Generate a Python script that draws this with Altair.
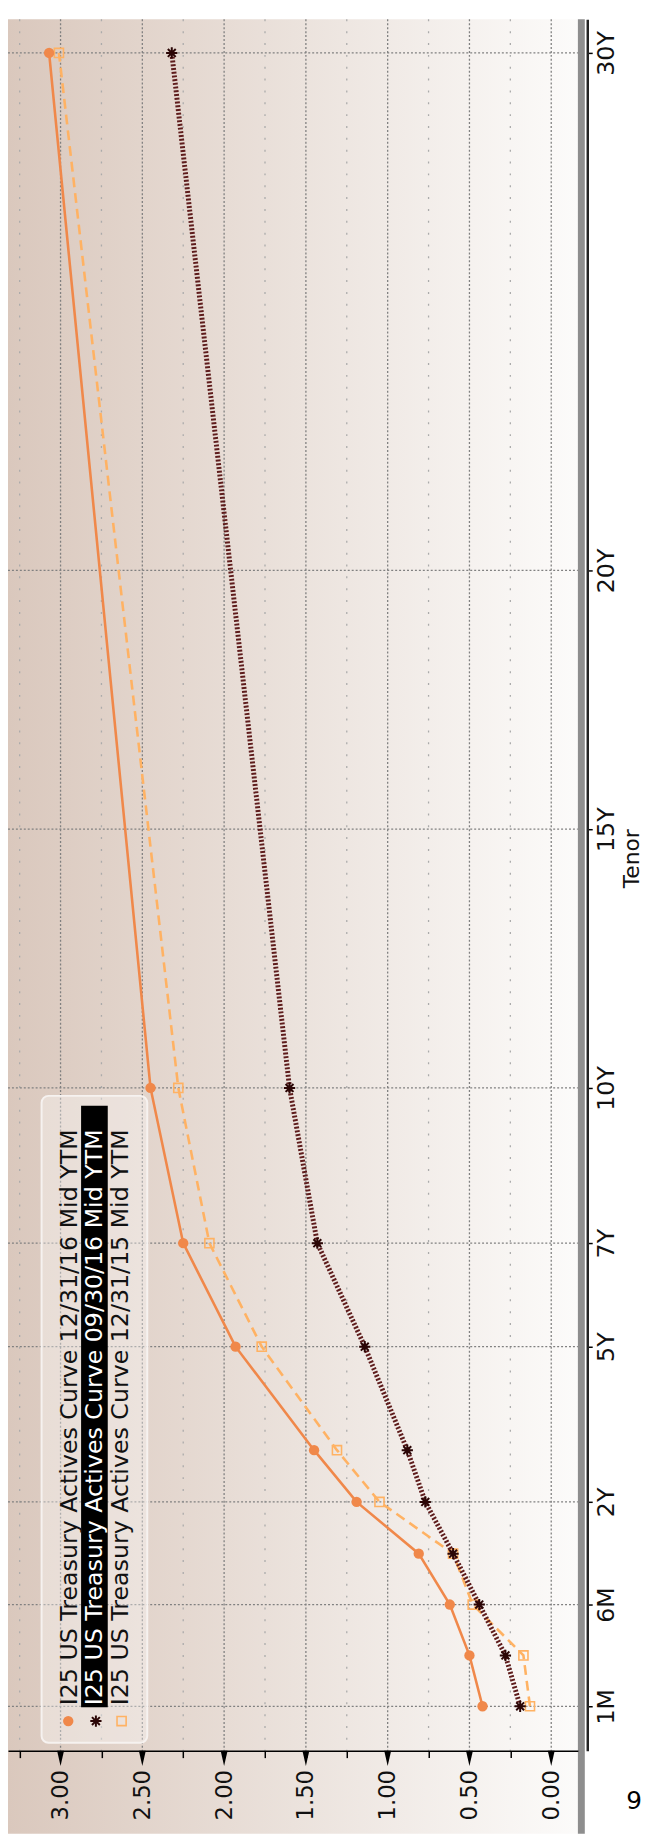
import altair as alt
import pandas as pd

# ---------------- data ----------------
tenor_labels = ["1M", "3M", "6M", "1Y", "2Y", "3Y", "5Y", "7Y", "10Y", "30Y"]
tenor_months = [1, 3, 6, 12, 24, 36, 60, 84, 120, 360]
yld_dec16 = [0.42, 0.50, 0.62, 0.81, 1.19, 1.45, 1.93, 2.25, 2.45, 3.07]
yld_sep16 = [0.19, 0.28, 0.44, 0.60, 0.77, 0.88, 1.14, 1.43, 1.60, 2.32]
yld_dec15 = [0.13, 0.17, 0.48, 0.60, 1.05, 1.31, 1.77, 2.09, 2.28, 3.01]
series_names = [
    "I25 US Treasury Actives Curve 12/31/16 Mid YTM",
    "I25 US Treasury Actives Curve 09/30/16 Mid YTM",
    "I25 US Treasury Actives Curve 12/31/15 Mid YTM",
]

axis_tenor_months = [1, 6, 24, 60, 84, 120, 180, 240, 360]
axis_tenor_labels = ["1M", "6M", "2Y", "5Y", "7Y", "10Y", "15Y", "20Y", "30Y"]
yield_ticks = [0.0, 0.25, 0.5, 0.75, 1.0, 1.25, 1.5, 1.75, 2.0, 2.25, 2.5, 2.75, 3.0, 3.25]
yield_tick_labels = ["0.00", "", "0.50", "", "1.00", "", "1.50", "", "2.00", "", "2.50", "", "3.00", ""]
yield_major = [0.0, 0.5, 1.0, 1.5, 2.0, 2.5, 3.0]
yield_minor = [0.25, 0.75, 1.25, 1.75, 2.25, 2.75, 3.25]
page_note = "9"
tenor_title = "Tenor"

# ---------------- layout / style ----------------
W, H = 577, 1753
PAD_R, PAD_B = 72, 84
FONT = "DejaVu Sans"
TXT = "#111111"

xs = alt.Scale(domain=[-0.163, 3.3213], reverse=True, nice=False, zero=False)
ys = alt.Scale(domain=[0, 1, 3, 6, 12, 360, 367.8],
               range=[H, H - 45, H - 96.5, H - 148, H - 199.5, 34, 0],
               nice=False, zero=False)


def js_list(v):
    return "[" + ",".join(repr(x) if not isinstance(x, str) else "'" + x + "'" for x in v) + "]"


x_axis = alt.Axis(
    values=yield_ticks,
    labelExpr=f"{js_list(yield_tick_labels)}[indexof({js_list(yield_ticks)}, datum.value)]",
    labelAngle=270, labelAlign="right", labelBaseline="middle",
    labelFont=FONT, labelFontSize=23, labelColor=TXT, labelPadding=12,
    labelOverlap=False, labelFlush=False,
    tickSize=7, tickColor="#000000", tickWidth=1.5,
    domainColor="#000000", domainWidth=1.5,
    grid=False, title=None, zindex=1,
)
y_axis = alt.Axis(
    orient="right", values=axis_tenor_months,
    labelExpr=f"{js_list(axis_tenor_labels)}[indexof({js_list(axis_tenor_months)}, datum.value)]",
    labelAngle=270, labelAlign="center", labelBaseline="top",
    labelFont=FONT, labelFontSize=24, labelColor=TXT, labelPadding=3,
    labelOverlap=False, labelFlush=False,
    tickSize=5, tickColor="#000000", tickWidth=1.5,
    domainColor="#222222", domainWidth=2.5, offset=9.5,
    grid=False, title=None, zindex=1,
)


def X(f="yield"):
    return alt.X(f"{f}:Q", scale=xs, axis=x_axis)


def Y(f="tenor"):
    return alt.Y(f"{f}:Q", scale=ys, axis=y_axis)


one = pd.DataFrame({"k": [0]})

# background gradient
bg = alt.Chart(one).mark_rect(
    fill=alt.LinearGradient(
        gradient="linear", x1=0, x2=1, y1=0, y2=0,
        stops=[alt.GradientStop(offset=0, color="#dac8bd"),
               alt.GradientStop(offset=0.5, color="#ebe2dc"),
               alt.GradientStop(offset=1, color="#fcfbfa")]),
    strokeWidth=0,
).encode(x=alt.value(0), x2=alt.value(W), y=alt.value(0), y2=alt.value(H + PAD_B))

# grid lines
grid_major = alt.Chart(pd.DataFrame({"yield": yield_major})).mark_rule(
    color="#808080", strokeDash=[2, 2], strokeWidth=1.3
).encode(x=X(), y=alt.value(0), y2=alt.value(H))
grid_minor = alt.Chart(pd.DataFrame({"yield": yield_minor})).mark_rule(
    color="#ababab", strokeDash=[2, 10], strokeWidth=1.3
).encode(x=X(), y=alt.value(0), y2=alt.value(H))
grid_tenor = alt.Chart(pd.DataFrame({"tenor": axis_tenor_months})).mark_rule(
    color="#808080", strokeDash=[2, 2], strokeWidth=1.3
).encode(y=Y(), x=alt.value(0), x2=alt.value(W))

# legend box (drawn under the curves)
leg_box = alt.Chart(one).mark_rect(
    fill="#ffffff", fillOpacity=0.35, stroke="#f6f2f0", strokeWidth=2, cornerRadius=7
).encode(x=alt.value(34), x2=alt.value(141), y=alt.value(1090), y2=alt.value(1745))
leg_hl = alt.Chart(one).mark_rect(fill="#000000").encode(
    x=alt.value(74), x2=alt.value(101), y=alt.value(1100), y2=alt.value(1709))

# series
df = pd.DataFrame({
    "tenor": tenor_months * 3,
    "label": tenor_labels * 3,
    "yield": yld_dec16 + yld_sep16 + yld_dec15,
    "series": [series_names[0]] * 10 + [series_names[1]] * 10 + [series_names[2]] * 10,
})

C1, C2, C2M, C3 = "#f0884a", "#5e1c1c", "#2b0606", "#ffb263"
ASTER = "M0,-1L0,1M-1,0L1,0M-0.7,-0.7L0.7,0.7M-0.7,0.7L0.7,-0.7"
TRI = "M-1,0L1,0L0,4.4Z"

styles = [
    dict(line=dict(color=C1, strokeWidth=2.6),
         pt=dict(shape="circle", filled=True, color=C1, size=110, opacity=1)),
    dict(line=dict(color=C2, strokeWidth=5, strokeDash=[2, 1.8]),
         pt=dict(shape=ASTER, filled=False, color=C2M, size=130, strokeWidth=2, opacity=1)),
    dict(line=dict(color=C3, strokeWidth=2.6, strokeDash=[10, 6]),
         pt=dict(shape="square", filled=False, color=C3, size=85, strokeWidth=1.6, opacity=1)),
]

series_layers = []
for i in [2, 1, 0]:
    sub = alt.Chart(df).transform_filter(alt.datum.series == series_names[i])
    series_layers.append(sub.mark_line(**styles[i]["line"]).encode(
        x=X(), y=Y(), order=alt.Order("tenor:Q")))
    series_layers.append(sub.mark_point(**styles[i]["pt"]).encode(x=X(), y=Y()))

# axis triangles on major yield ticks
tri = alt.Chart(pd.DataFrame({"yield": yield_major})).mark_point(
    shape=TRI, filled=True, color="#000000", size=49, opacity=1
).encode(x=X(), y=alt.value(H))

# legend texts and symbols
leg_layers = []
row_x = [63, 88, 114]
sym_x = [61, 89, 115]
txt_col = [TXT, "#ffffff", TXT]
for i in range(3):
    leg_layers.append(alt.Chart(one).mark_text(
        text=series_names[i], angle=270, align="left", baseline="middle",
        font=FONT, fontSize=24, color=txt_col[i]
    ).encode(x=alt.value(row_x[i]), y=alt.value(1707)))
    leg_layers.append(alt.Chart(one).mark_point(**styles[i]["pt"]).encode(
        x=alt.value(sym_x[i]), y=alt.value(1723)))

# right side band
band = alt.Chart(one).mark_rule(color="#8e8e8e", strokeWidth=7).encode(
    x=alt.value(580.5), y=alt.value(0), y2=alt.value(H + PAD_B))

title_txt = alt.Chart(one).mark_text(
    text=tenor_title, angle=270, align="center", baseline="middle",
    font=FONT, fontSize=22, color=TXT
).encode(x=alt.value(632), y=alt.value(850))
note_txt = alt.Chart(one).mark_text(
    text=page_note, align="center", baseline="middle", font=FONT, fontSize=25, color="#000000"
).encode(x=alt.value(634), y=alt.value(1804))

chart = alt.layer(
    bg, grid_minor, grid_major, grid_tenor, leg_box, leg_hl,
    *series_layers, tri, *leg_layers, band, title_txt, note_txt
).properties(
    width=W, height=H,
    autosize=alt.AutoSizeParams(type="none"),
    padding={"left": 0, "top": 0, "right": PAD_R, "bottom": PAD_B},
    background="#ffffff",
).configure_view(stroke=None)

chart.save("out.html", embed_options={"renderer": "svg", "actions": False})
